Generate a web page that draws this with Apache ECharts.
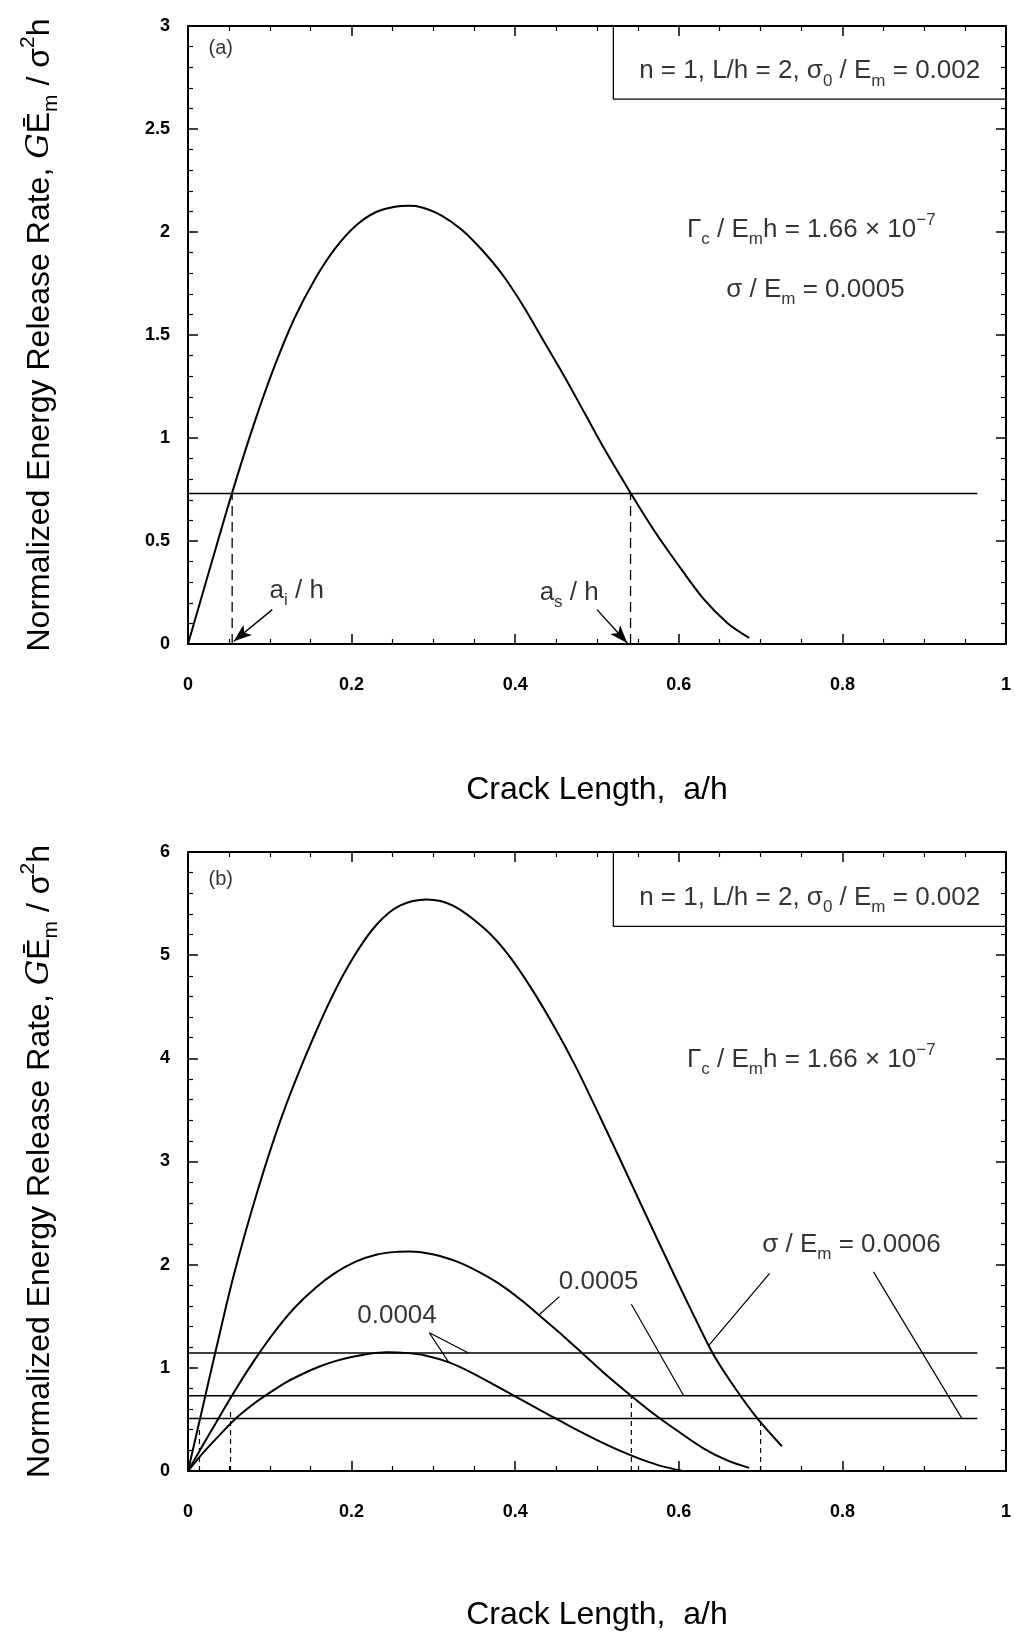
<!DOCTYPE html>
<html>
<head>
<meta charset="utf-8">
<script src="https://cdn.jsdelivr.net/npm/echarts@6.0.0/dist/echarts.min.js"></script>
<style>
  html, body { margin: 0; padding: 0; background: #fff; }
  #chart-container { width: 1015px; height: 1636px; }
</style>
</head>
<body>
<div id="chart-container"></div>
<script>
// ---- values ----
// sigma/Em = 0.0005 (panel a, and middle curve of panel b)
const a05 = [0, 0.027, 0.054, 0.08, 0.105, 0.13, 0.155, 0.18, 0.205, 0.23, 0.255, 0.27, 0.285, 0.31, 0.335, 0.36, 0.385, 0.41, 0.435, 0.46, 0.485, 0.51, 0.542, 0.57, 0.6, 0.63, 0.66, 0.686];
const g05 = [0, 0.37, 0.735, 1.06, 1.34, 1.58, 1.77, 1.92, 2.03, 2.097, 2.124, 2.127, 2.12, 2.08, 2.01, 1.91, 1.79, 1.64, 1.47, 1.30, 1.12, 0.94, 0.727, 0.55, 0.38, 0.22, 0.10, 0.03];
// sigma/Em = 0.0006
const a06 = [0, 0.016, 0.034, 0.056, 0.086, 0.114, 0.142, 0.175, 0.203, 0.231, 0.259, 0.292, 0.324, 0.362, 0.39, 0.418, 0.446, 0.474, 0.502, 0.53, 0.557, 0.595, 0.62, 0.643, 0.67, 0.697, 0.726];
const g06 = [0, 0.55, 1.17, 1.90, 2.74, 3.42, 3.99, 4.58, 4.99, 5.30, 5.48, 5.54, 5.48, 5.26, 5.02, 4.70, 4.33, 3.92, 3.46, 2.99, 2.53, 1.89, 1.48, 1.12, 0.79, 0.50, 0.24];
// sigma/Em = 0.0004
const a04 = [0, 0.02, 0.04, 0.06, 0.08, 0.1, 0.12, 0.14, 0.16, 0.18, 0.2, 0.22, 0.243, 0.265, 0.29, 0.32, 0.35, 0.38, 0.41, 0.44, 0.47, 0.5, 0.53, 0.555, 0.58, 0.603];
const g04 = [0, 0.19, 0.36, 0.52, 0.65, 0.76, 0.86, 0.94, 1.01, 1.065, 1.105, 1.135, 1.15, 1.145, 1.12, 1.05, 0.94, 0.81, 0.68, 0.55, 0.42, 0.30, 0.19, 0.11, 0.045, 0.005];

// critical levels Gamma_c / sigma^2 h
const critA = 0.73;
const crit04 = 1.143, crit05 = 0.73, crit06 = 0.51;
const critEnd = 0.965;

// crossing points (dashed drop lines): [a/h, top value]
const dropsA = [[0.054, 0.73], [0.541, 0.73]];
const dropsB = [[0.014, 0.40], [0.052, 0.58], [0.542, 0.73], [0.70, 0.51]];

// annotation anchors (data coordinates)
const arrowAi = [[0.103, 0.167], [0.056, 0.013]];
const arrowAs = [[0.50, 0.167], [0.537, 0.005]];
const boxA = [[0.52, 3], [0.52, 2.645], [1, 2.645]];
const boxB = [[0.52, 6], [0.52, 5.28], [1, 5.28]];
const lead06a = [[0.711, 1.916], [0.637, 1.22]];
const lead06b = [[0.838, 1.93], [0.946, 0.51]];
const lead05a = [[0.454, 1.69], [0.43, 1.52]];
const lead05b = [[0.542, 1.617], [0.606, 0.73]];
const lead04 = [[0.343, 1.143], [0.295, 1.34], [0.319, 1.05]];

const xTicks = [0, 0.2, 0.4, 0.6, 0.8, 1];

const FONT = 'Liberation Sans';
const RICH = {
  t: { fontSize: 26, lineHeight: 36, fontFamily: FONT, color: '#000' },
  s: { fontSize: 17, lineHeight: 17, verticalAlign: 'bottom', fontFamily: FONT, color: '#000' },
  p: { fontSize: 17, lineHeight: 17, verticalAlign: 'top', fontFamily: FONT, color: '#000' },
  sm: { fontSize: 20, lineHeight: 24, fontFamily: FONT, color: '#000' }
};

let myChart = echarts.init(document.getElementById('chart-container'), null, { renderer: 'canvas' });

function ejeX(grid, pos, conLabel, nameGap) {
  return {
    type: 'value', gridIndex: grid, position: pos, min: 0, max: 1, interval: 0.2,
    axisLine: { show: true, onZero: false, lineStyle: { color: '#000', width: 2 } },
    axisTick: { show: true, inside: true, length: 10, lineStyle: { color: '#000', width: 1.5 } },
    minorTick: { show: true, splitNumber: 4, length: 5, lineStyle: { color: '#000', width: 1.2 } },
    splitLine: { show: false },
    axisLabel: { show: conLabel, margin: 32, color: '#000', fontSize: 18, fontWeight: 'bold', fontFamily: FONT,
      formatter: v => (xTicks.indexOf(v) >= 0 ? String(v) : '') },
    name: conLabel ? 'Crack Length,  a/h' : '',
    nameLocation: 'middle', nameGap: nameGap,
    nameTextStyle: { fontSize: 32, color: '#000', fontFamily: FONT }
  };
}

function ejeY(grid, pos, conLabel, max, step) {
  return {
    type: 'value', gridIndex: grid, position: pos, min: 0, max: max, interval: step,
    axisLine: { show: true, onZero: false, lineStyle: { color: '#000', width: 2 } },
    axisTick: { show: true, inside: true, length: 10, lineStyle: { color: '#000', width: 1.5 } },
    minorTick: { show: true, splitNumber: 5, length: 5, lineStyle: { color: '#000', width: 1.2 } },
    splitLine: { show: false },
    axisLabel: { show: conLabel, margin: 18, color: '#000', fontSize: 18, fontWeight: 'bold', fontFamily: FONT },
    name: conLabel ? '{n|Normalized Energy Release Rate, }{g|G}{n|Ē}{s|m}{n| / σ}{p|2}{n|h}' : '',
    nameLocation: 'middle', nameGap: 126,
    nameTextStyle: {
      color: '#000', fontFamily: FONT, fontSize: 32,
      rich: {
        n: { fontSize: 32, lineHeight: 44, fontFamily: FONT, color: '#000' },
        g: { fontSize: 32, lineHeight: 44, fontFamily: 'DejaVu Serif', fontStyle: 'italic', color: '#000' },
        s: { fontSize: 21, lineHeight: 21, verticalAlign: 'bottom', fontFamily: FONT, color: '#000' },
        p: { fontSize: 21, lineHeight: 21, verticalAlign: 'top', fontFamily: FONT, color: '#000' }
      }
    }
  };
}

function pares(xs, ys) {
  return xs.map((x, i) => [x, ys[i]]);
}

function linea(g, data, estilo, extra) {
  return Object.assign({
    type: 'line', xAxisIndex: g * 2, yAxisIndex: g * 2, data: data,
    symbol: 'none', silent: true, animation: false,
    lineStyle: Object.assign({ color: '#000', width: 2 }, estilo)
  }, extra || {});
}

function textos(g, items) {
  return {
    type: 'scatter', xAxisIndex: g * 2, yAxisIndex: g * 2, symbolSize: 0, silent: true, animation: false,
    data: items.map(it => ({ value: it[0], label: { formatter: it[1] } })),
    label: { show: true, position: 'inside', color: '#000', fontFamily: FONT, fontSize: 26, lineHeight: 36, rich: RICH }
  };
}

function flechas(g, lista) {
  return {
    type: 'line', xAxisIndex: g * 2, yAxisIndex: g * 2, data: [], silent: true, animation: false,
    markLine: {
      silent: true, animation: false,
      symbol: ['none', 'arrow'], symbolSize: [10, 18],
      itemStyle: { color: '#000' },
      lineStyle: { color: '#000', width: 1.4, type: 'solid' },
      label: { show: false },
      data: lista.map(f => [{ coord: f[0] }, { coord: f[1] }])
    }
  };
}

const series = [];
// panel (a)
series.push(linea(0, pares(a05, g05), { width: 2 }, { smooth: 0.3 }));
series.push(linea(0, [[0, critA], [critEnd, critA]], { width: 1.5 }));
dropsA.forEach(d => series.push(linea(0, [[d[0], 0], d], { width: 1.3, type: [10, 6] })));
series.push(linea(0, boxA, { width: 1.3 }));
series.push(flechas(0, [arrowAi, arrowAs]));
series.push(textos(0, [
  [[0.04, 2.89], '{sm|(a)}'],
  [[0.76, 2.78], '{t|n = 1, L/h = 2, σ}{s|0}{t| / E}{s|m}{t| = 0.002}'],
  [[0.762, 2.01], '{t|Γ}{s|c}{t| / E}{s|m}{t|h = 1.66 × 10}{p|−7}'],
  [[0.767, 1.72], '{t|σ / E}{s|m}{t| = 0.0005}'],
  [[0.133, 0.256], '{t|a}{s|i}{t| / h}'],
  [[0.466, 0.25], '{t|a}{s|s}{t| / h}']
]));

// panel (b)
series.push(linea(1, pares(a06, g06), { width: 2 }, { smooth: 0.3 }));
series.push(linea(1, pares(a05, g05), { width: 2 }, { smooth: 0.3 }));
series.push(linea(1, pares(a04, g04), { width: 2 }, { smooth: 0.3 }));
[crit04, crit05, crit06].forEach(c => series.push(linea(1, [[0, c], [critEnd, c]], { width: 1.5 })));
dropsB.forEach(d => series.push(linea(1, [[d[0], 0], d], { width: 1.2, type: [5, 4] })));
series.push(linea(1, boxB, { width: 1.3 }));
[lead06a, lead06b, lead05a, lead05b, lead04].forEach(l => series.push(linea(1, l, { width: 1.2 })));
series.push(textos(1, [
  [[0.04, 5.73], '{sm|(b)}'],
  [[0.76, 5.56], '{t|n = 1, L/h = 2, σ}{s|0}{t| / E}{s|m}{t| = 0.002}'],
  [[0.762, 3.99], '{t|Γ}{s|c}{t| / E}{s|m}{t|h = 1.66 × 10}{p|−7}'],
  [[0.811, 2.19], '{t|σ / E}{s|m}{t| = 0.0006}'],
  [[0.502, 1.83], '{t|0.0005}'],
  [[0.2555, 1.50], '{t|0.0004}']
]));

const opciones = {
  backgroundColor: '#fff',
  animation: false,
  grid: [
    { left: 188, top: 26, width: 818, height: 618, outerBoundsMode: 'none' },
    { left: 188, top: 852, width: 818, height: 619, outerBoundsMode: 'none' }
  ],
  xAxis: [
    ejeX(0, 'bottom', true, 130),
    ejeX(0, 'top', false, 0),
    ejeX(1, 'bottom', true, 128),
    ejeX(1, 'top', false, 0)
  ],
  yAxis: [
    ejeY(0, 'left', true, 3, 0.5),
    ejeY(0, 'right', false, 3, 0.5),
    ejeY(1, 'left', true, 6, 1),
    ejeY(1, 'right', false, 6, 1)
  ],
  series: series
};

myChart.setOption(opciones, true);
window.addEventListener('resize', myChart.resize);
</script>
</body>
</html>
